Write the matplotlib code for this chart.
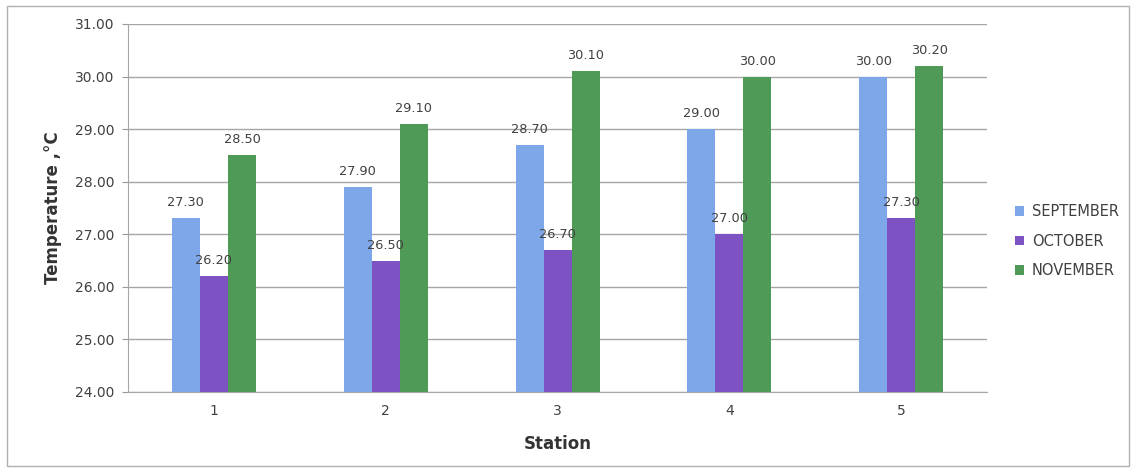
import numpy as np
import matplotlib
matplotlib.use("Agg")
import matplotlib.pyplot as plt
from matplotlib.patches import Rectangle

# Monthly water temperature at each station
stations = ["1", "2", "3", "4", "5"]
months = ["SEPTEMBER", "OCTOBER", "NOVEMBER"]
september = [27.30, 27.90, 28.70, 29.00, 30.00]
october = [26.20, 26.50, 26.70, 27.00, 27.30]
november = [28.50, 29.10, 30.10, 30.00, 30.20]
colors = ["#7EA7E9", "#7D52C2", "#4F9A57"]

fig = plt.figure(figsize=(11.36, 4.70), dpi=100)
ax = fig.add_axes([0.1127, 0.166, 0.7563, 0.783])

x = np.arange(len(stations))
width = 0.163
series = [september, october, november]
for i, (vals, name, c) in enumerate(zip(series, months, colors)):
    bars = ax.bar(x + (i - 1) * width, np.array(vals) - 24, width, bottom=24,
                  color=c, label=name, zorder=3)
    for b, v in zip(bars, vals):
        ax.annotate(f"{v:.2f}", (b.get_x() + b.get_width() / 2, v),
                    xytext=(0, 6.5), textcoords="offset points",
                    ha="center", va="bottom", fontsize=9.3, color="#404040",
                    zorder=4)

ax.set_xlim(-0.5, len(stations) - 0.5)
ax.set_ylim(24, 31)
ax.set_yticks(np.arange(24, 32, 1))
ax.set_yticklabels([f"{t:.2f}" for t in range(24, 32)])
ax.set_xticks(x)
ax.set_xticklabels(stations)
ax.tick_params(axis="y", length=4, color="#999999", labelsize=10,
               labelcolor="#404040", pad=6)
ax.tick_params(axis="x", length=0, labelsize=10, labelcolor="#404040", pad=9)

ax.grid(axis="y", color="#A6A6A6", linewidth=1, zorder=0)
for side in ["top", "right"]:
    ax.spines[side].set_visible(False)
for side in ["left", "bottom"]:
    ax.spines[side].set_color("#A6A6A6")

ax.set_xlabel("Station", fontsize=12, fontweight="bold", color="#333333",
              labelpad=12)
ax.set_ylabel("Temperature ,°C", fontsize=12, fontweight="bold",
              color="#333333", labelpad=9)

ax.legend(loc="center left", bbox_to_anchor=(0.8935, 0.487),
          bbox_transform=fig.transFigure, frameon=False, borderpad=0,
          borderaxespad=0, fontsize=10.5, handlelength=0.6, handleheight=0.6,
          handletextpad=0.55, labelspacing=1.0, labelcolor="#404040")

# outer chart border
fig.patches.append(Rectangle((0.006, 0.008), 0.988, 0.979, transform=fig.transFigure,
                             fill=False, edgecolor="#B0B0B0", linewidth=1))

fig.savefig("out.png", dpi=100)
